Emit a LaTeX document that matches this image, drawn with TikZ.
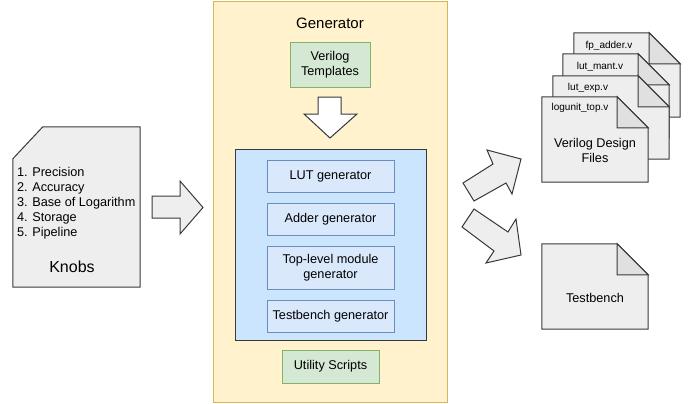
\documentclass[tikz,border=0pt]{standalone}
\usepackage{fontspec}
\setmainfont{Liberation Sans}
\usepackage{tikz}
\usetikzlibrary{positioning}
\definecolor{genfill}{HTML}{FFF2CC}
\definecolor{genline}{HTML}{D6B656}
\definecolor{grnfill}{HTML}{D5E8D4}
\definecolor{grnline}{HTML}{82B366}
\definecolor{corefill}{HTML}{CCE5FF}
\definecolor{subfill}{HTML}{DAE8FC}
\definecolor{subline}{HTML}{6C8EBF}
\definecolor{docfill}{HTML}{EEEEEE}
\definecolor{foldfill}{HTML}{E0E0E0}
\definecolor{darkline}{HTML}{36393D}
\tikzset{
	every node/.style={font=\fontsize{12.7}{15}\selectfont, inner sep=0pt}, % Texto base
	titletext/.style={font=\fontsize{15}{18}\selectfont}, % Titulos grandes
	filetext/.style={font=\fontsize{10}{12}\selectfont}, % Nombres de archivos
	listtext/.style={align=left}, % Lista de parametros
	genbox/.style={draw=genline, fill=genfill, line width=1pt}, % Caja del generador
	greenbox/.style={draw=grnline, fill=grnfill, line width=1pt, align=center}, % Cajas verdes
	corebox/.style={draw=darkline, fill=corefill, line width=1pt}, % Caja azul interna
	subbox/.style={draw=subline, fill=subfill, line width=1pt, align=center, minimum width=127}, % Modulos
	docarea/.style={}, % Area de un documento
	docline/.style={draw=darkline, fill=docfill, line width=1pt, line join=miter}, % Contorno de documento
	blockarr/.style={draw=darkline, fill=docfill, line width=1pt, line join=miter} % Flechas gruesas
}
\newcommand{\dogear}[1]{%
	\draw[docline] (#1.north west) -- ([xshift=-31pt]#1.north east) -- ([yshift=-31pt]#1.north east) -- (#1.south east) -- (#1.south west) -- cycle;
	\draw[docline, fill=foldfill] ([xshift=-31pt]#1.north east) -- ([xshift=-31pt, yshift=-31pt]#1.north east) -- ([yshift=-31pt]#1.north east) -- cycle;
}

\begin{document}
\begin{tikzpicture}[x=1pt, y=-1pt]
				\useasboundingbox (0,0) rectangle (696,404);
				% perillas
				\node[docarea, minimum width=127, minimum height=160] (knobs) at (76.5,207) {};
				\draw[docline] (knobs.south west) -- ([yshift=-32pt]knobs.north west) -- ([xshift=30pt]knobs.north west) -- (knobs.north east) -- (knobs.south east) -- cycle;
				\node[listtext, anchor=west] (knoblist) at ([xshift=4pt, yshift=4pt]knobs.west) {1. Precision\\2. Accuracy\\3. Base of Logarithm\\4. Storage\\5. Pipeline};
				\node[titletext, font=\fontsize{16}{19}\selectfont] (knobname) at (72,267) {Knobs};
				\draw[blockarr] (152,196) -- (180,196) -- (180,181) -- (203,207.5) -- (180,234) -- (180,218) -- (152,218) -- cycle;
				% generador
				\node[genbox, minimum width=234, minimum height=400] (gen) at (330,202) {};
				\node[titletext] (gentitle) at (330,23) {Generator};
				\node[greenbox, minimum width=80, minimum height=44] (vtemp) at (330,65) {Verilog\\Templates};
				\draw[blockarr, fill=white] (318,97) -- (341,97) -- (341,114) -- (357,114) -- (330,138) -- (304,114) -- (318,114) -- cycle;
				\node[corebox, minimum width=191, minimum height=191] (core) at (330.5,244.5) {};
				\node[subbox, minimum height=32] (lutgen) at (330.5,176) {LUT generator};
				\node[subbox, minimum height=32, below=10pt of lutgen] (addgen) {Adder generator};
				\node[subbox, minimum height=43, below=10pt of addgen] (topgen) {Top-level module\\generator};
				\node[subbox, minimum height=32, below=10pt of topgen] (tbgen) {Testbench generator};
				\node[greenbox, minimum width=97, minimum height=33] (util) at (330.5,366.5) {Utility Scripts};
				% salidas
				\draw[blockarr] (463,183) -- (493,164) -- (487,150) -- (521,159) -- (512,194) -- (506,183) -- (474,201) -- cycle;
				\draw[blockarr] (462,227) -- (474,209) -- (508,232) -- (516,219) -- (521,255) -- (486,263) -- (494,251) -- cycle;
				\node[docarea, minimum width=106, minimum height=84] (fpadder) at (627,75) {};
				\dogear{fpadder}
				\node[filetext] (fpname) at (609,46) {fp\_adder.v};
				\node[docarea, minimum width=106, minimum height=84] (lutmant) at (616,96) {};
				\dogear{lutmant}
				\node[filetext] (mantname) at (600,67) {lut\_mant.v};
				\node[docarea, minimum width=116, minimum height=83] (lutexp) at (611,117.5) {};
				\dogear{lutexp}
				\node[filetext] (expname) at (588,88) {lut\_exp.v};
				\node[docarea, minimum width=106, minimum height=85] (logtop) at (595,139.5) {};
				\dogear{logtop}
				\node[filetext] (topname) at (580,108) {logunit\_top.v};
				\node[align=center] (vdfiles) at (595,150) {Verilog Design\\Files};
				\node[docarea, minimum width=106, minimum height=85] (testbench) at (595,286.5) {};
				\dogear{testbench}
				\node (tbname) at (595,298) {Testbench};
			\end{tikzpicture}
\end{document}
